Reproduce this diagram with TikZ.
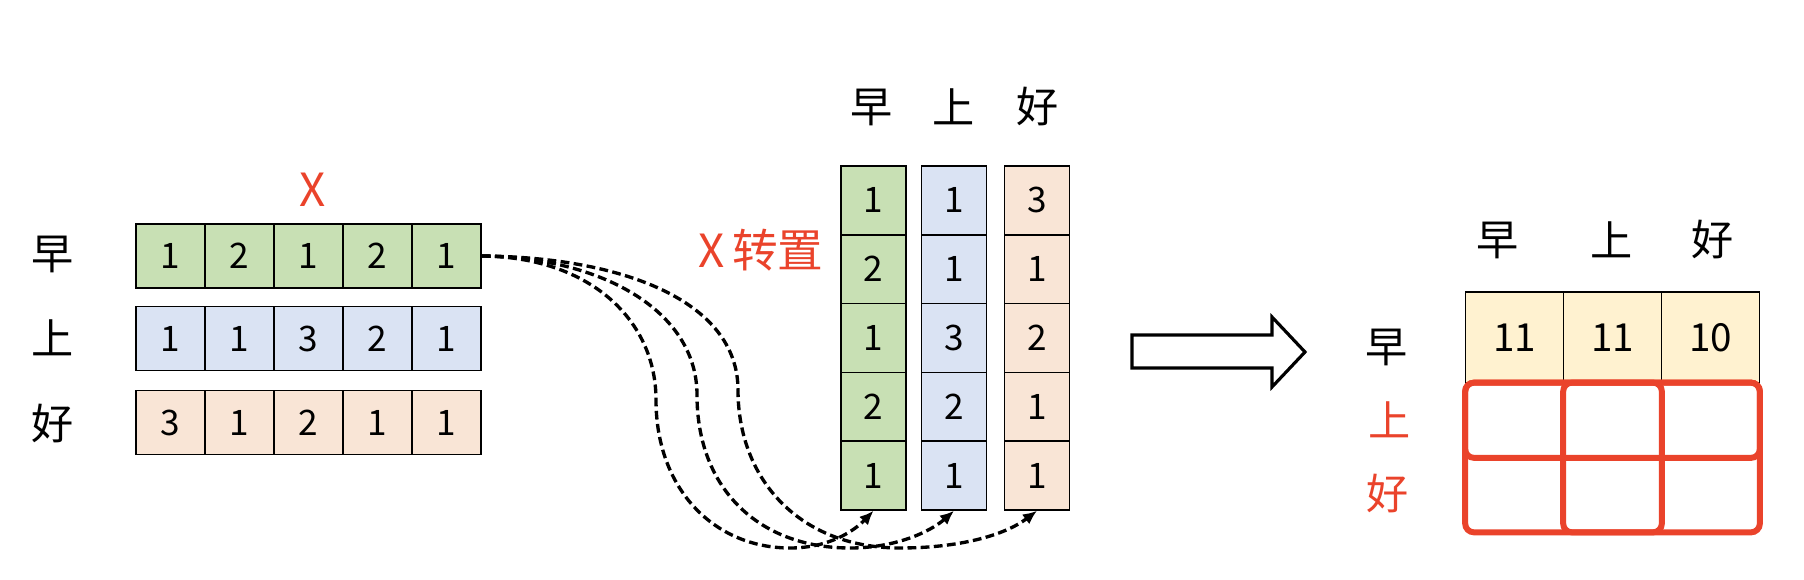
\documentclass[tikz,border=0pt]{standalone}
\usepackage{fontspec}
\setmainfont{Noto Sans CJK SC}
\usetikzlibrary{arrows.meta}
\definecolor{cgreen}{RGB}{200,224,180}
\definecolor{cblue}{RGB}{218,227,243}
\definecolor{corange}{RGB}{249,229,214}
\definecolor{cyellow}{RGB}{255,242,208}
\definecolor{hlred}{RGB}{234,67,43}

\begin{document}
\begin{tikzpicture}
[x=0.02cm,y=-0.02cm]
\tikzset{cell/.style={draw,line width=0.9pt,inner sep=0,minimum width=1.38cm,minimum height=1.28cm,font=\fontsize{20}{20}\selectfont}}
\tikzset{tcell/.style={cell,minimum width=1.3cm,minimum height=1.376cm}}
\tikzset{mcell/.style={cell,minimum width=1.96cm,minimum height=1.82cm,font=\fontsize{22}{22}\selectfont}}
\tikzset{ecell/.style={inner sep=0,minimum width=1.96cm,minimum height=1.49cm}}
\tikzset{word/.style={font=\fontsize{24}{24}\selectfont}}
\tikzset{redword/.style={text=hlred,font=\fontsize{26}{26}\selectfont}}
\tikzset{dashlink/.style={dash pattern=on 5pt off 2.5pt,line width=1.9pt,-{Latex[length=8pt,width=7pt]}}}
\tikzset{hlbox/.style={draw=hlred,line width=3.4pt,rounded corners=5pt}}
\useasboundingbox (0,0) rectangle (1804,580);

\node [word] (wz) at (53,254) {早};
\node [word] (ws) at (53,338) {上};
\node [word] (wh) at (53,423) {好};
\node [redword] (x) at (313,190) {X};

\foreach \v [count=\i] in {1,2,1,2,1}
	\node [cell,fill=cgreen] (a\i) at ({101.5+69*\i},256) {\v};
\foreach \v [count=\i] in {1,1,3,2,1}
	\node [cell,fill=cblue] (b\i) at ({101.5+69*\i},338.5) {\v};
\foreach \v [count=\i] in {3,1,2,1,1}
	\node [cell,fill=corange] (c\i) at ({101.5+69*\i},422.5) {\v};

\node [word] (tz) at (872,107) {早};
\node [word] (ts) at (954,107) {上};
\node [word] (th) at (1038,107) {好};
\node [redword] (xt) at (761,250) {X\,转置};

\foreach \v [count=\i] in {1,2,1,2,1}
	\node [tcell,fill=cgreen] (ta\i) at (873.5,{131.6+68.8*\i}) {\v};
\foreach \v [count=\i] in {1,1,3,2,1}
	\node [tcell,fill=cblue] (tb\i) at (954,{131.6+68.8*\i}) {\v};
\foreach \v [count=\i] in {3,1,2,1,1}
	\node [tcell,fill=corange] (tc\i) at (1037,{131.6+68.8*\i}) {\v};

\draw [dashlink] (a5.east) .. controls (590,257) and (656,320) .. (656,400)
	.. controls (656,490) and (715,548) .. (790,548)
	.. controls (830,548) and (855,530) .. (ta5.south);
\draw [dashlink] (a5.east) .. controls (600,257) and (697,310) .. (697,395)
	.. controls (697,490) and (760,548) .. (850,548)
	.. controls (895,548) and (930,532) .. (tb5.south);
\draw [dashlink] (a5.east) .. controls (620,257) and (738,300) .. (738,390)
	.. controls (738,480) and (800,548) .. (900,548)
	.. controls (960,548) and (1005,535) .. (tc5.south);

\draw [line width=1.8pt,line join=miter] (1132,335) -- (1272,335) -- (1272,317) -- (1305,352)
	-- (1272,387) -- (1272,368) -- (1132,368) -- cycle;

\node [word] (rz) at (1498,240) {早};
\node [word] (rs) at (1612,240) {上};
\node [word] (rh) at (1713,240) {好};
\node [word] (lz) at (1387,347) {早};
\node [word,text=hlred] (ls) at (1390,420) {上};
\node [word,text=hlred] (lh) at (1388,493) {好};

\foreach \v [count=\i] in {11,11,10}
	\node [mcell,fill=cyellow] (m\i) at ({1416.5+98*\i},337.5) {\v};
\foreach \i in {1,2,3} {
	\node [ecell] (p\i) at ({1416.5+98*\i},420.25) {};
	\node [ecell] (q\i) at ({1416.5+98*\i},494.75) {};
}

\draw [hlbox] (p1.north west) rectangle (q3.south east);
\draw [hlbox] (p1.north west) rectangle (p3.south east);
\draw [hlbox] (p2.north west) rectangle (q2.south east);

\end{tikzpicture}
\end{document}
